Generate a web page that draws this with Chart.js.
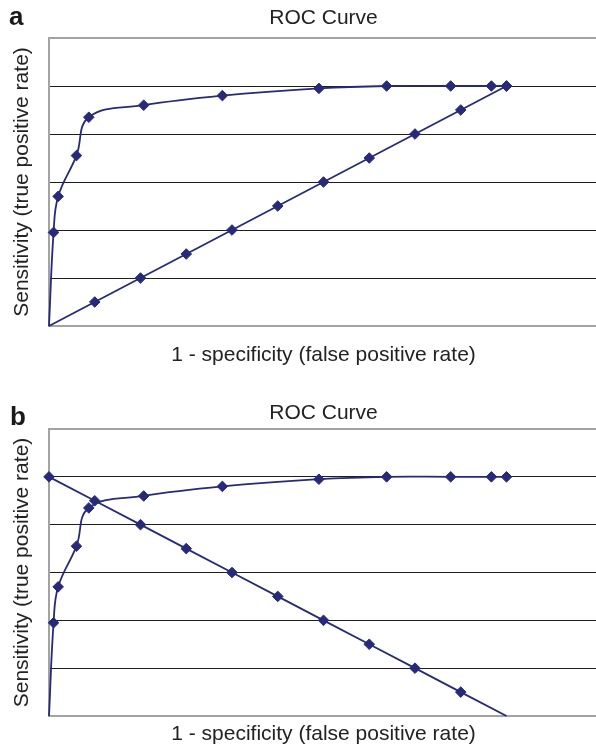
<!DOCTYPE html>
<html>
<head>
<meta charset="utf-8">
<script src="https://cdn.jsdelivr.net/npm/chart.js@4"></script>
<style>
  html, body { margin: 0; padding: 0; background: #fff; overflow: hidden; width: 596px; height: 747px; }
  canvas { position: absolute; left: 0; }
  .tag { position: absolute; z-index: 2; font: bold 26px "Liberation Sans", Arial, sans-serif; line-height: 26px; color: #1a1a1a; }
</style>
</head>
<body>
<canvas id="chartA" style="top:0" width="598" height="380"></canvas>
<canvas id="chartB" style="top:390px" width="598" height="357"></canvas>
<div class="tag" style="left:9px;top:3px">a</div>
<div class="tag" style="left:10px;top:403px">b</div>
<script>
// ROC curve
const fpr = [0, 0.01, 0.02, 0.06, 0.087, 0.207, 0.379, 0.59, 0.738, 0.878, 0.967, 1.0];
const tpr = [0, 0.39, 0.54, 0.71, 0.87, 0.92, 0.96, 0.99, 1.0, 1.0, 1.0, 1.0];

// straight reference lines
const lineFpr = [0, 0.1, 0.2, 0.3, 0.4, 0.5, 0.6, 0.7, 0.8, 0.9, 1.0];
const lineTprA = [0, 0.1, 0.2, 0.3, 0.4, 0.5, 0.6, 0.7, 0.8, 0.9, 1.0];
const lineTprB = [1.0, 0.9, 0.8, 0.7, 0.6, 0.5, 0.4, 0.3, 0.2, 0.1, 0];

const NAVY = "#262a78";
const FONT = '"Liberation Sans", Arial, sans-serif';
const TEXT = "#222";
const FRAME = "#a3a3a3";

function toPoints(xs, ys) {
  return xs.map((x, i) => ({ x: x, y: ys[i] }));
}

// markers are not shown where the line touches the x axis
function markerSize(c) {
  return c.raw && c.raw.y === 0 ? 0 : 5.3;
}

function makeChart(id, refTpr, lay) {
  return new Chart(document.getElementById(id), {
    type: "line",
    data: {
      datasets: [
        { data: toPoints(fpr, tpr), tension: 0.4, clip: false },
        { data: toPoints(lineFpr, refTpr), tension: 0, clip: false }
      ]
    },
    options: {
      responsive: false,
      animation: false,
      layout: { padding: 0, autoPadding: false },
      elements: {
        line: { borderColor: NAVY, borderWidth: 1.8, fill: false },
        point: {
          pointStyle: "rectRot",
          radius: markerSize,
          backgroundColor: NAVY,
          borderColor: NAVY,
          borderWidth: 1
        }
      },
      plugins: {
        legend: { display: false },
        tooltip: { enabled: false },
        title: {
          display: true,
          fullSize: false,
          text: "ROC Curve",
          color: TEXT,
          font: { family: FONT, size: 21, weight: "normal" },
          padding: { top: lay.titleTop, bottom: lay.titleBottom }
        }
      },
      scales: {
        x: {
          type: "linear",
          min: 0,
          max: 1.2,
          grid: { display: false },
          ticks: { display: false },
          border: { color: FRAME, width: 2 },
          title: {
            display: true,
            text: "1 - specificity (false positive rate)",
            color: TEXT,
            font: { family: FONT, size: 21 },
            padding: { top: 0, bottom: lay.xTitleBottom }
          },
          afterFit: s => { s.height = lay.xHeight; }
        },
        y: {
          min: 0,
          max: 1.2,
          ticks: { display: false, stepSize: 0.2 },
          grid: {
            drawTicks: false,
            color: c => c.tick.value > 1.1 ? FRAME : "#1e1e1e",
            lineWidth: c => c.tick.value > 1.1 ? 2 : 1
          },
          border: { color: FRAME, width: 2 },
          title: {
            display: true,
            text: "Sensitivity (true positive rate)",
            color: TEXT,
            font: { family: FONT, size: 21 },
            padding: { top: 10, bottom: 0 }
          },
          afterFit: s => { s.width = 49; }
        }
      }
    }
  });
}

makeChart("chartA", lineTprA, { titleTop: 5.4, titleBottom: 7.4, xHeight: 54, xTitleBottom: 12 });
makeChart("chartB", lineTprB, { titleTop: 10.2, titleBottom: 3.6, xHeight: 31, xTitleBottom: 0.4 });
</script>
</body>
</html>
